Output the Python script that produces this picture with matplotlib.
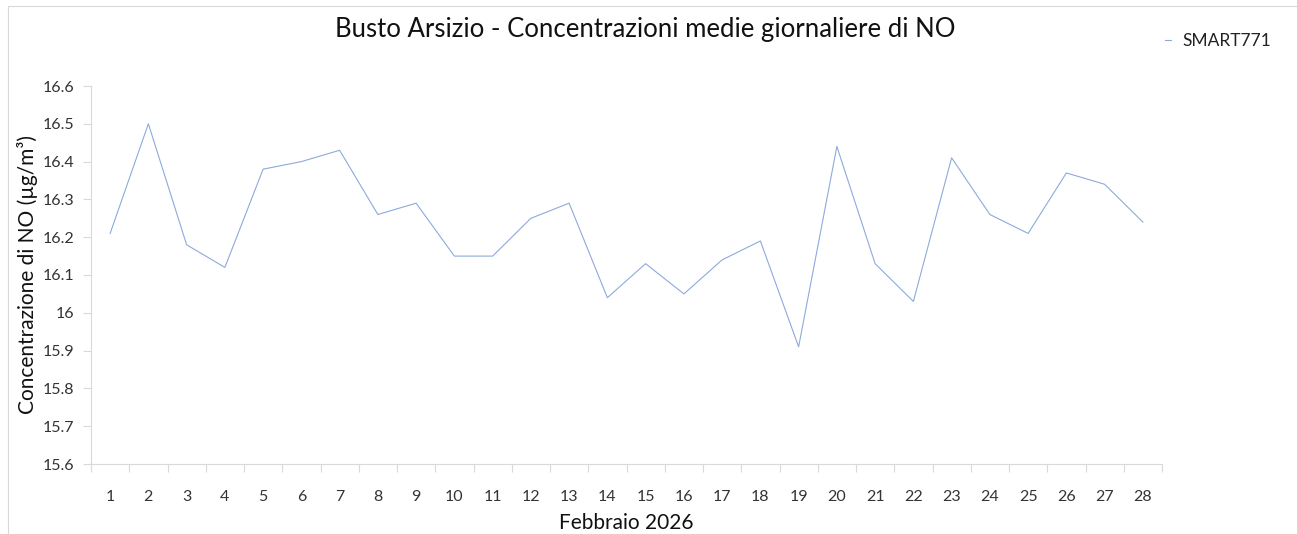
import matplotlib
matplotlib.use("Agg")
import matplotlib.pyplot as plt
from matplotlib.patches import Rectangle
import numpy as np

days = list(range(1, 29))
day_labels = [str(d) for d in days]
smart771 = [16.21, 16.50, 16.18, 16.12, 16.38, 16.40, 16.43, 16.26, 16.29, 16.15,
            16.15, 16.25, 16.29, 16.04, 16.13, 16.05, 16.14, 16.19, 15.91, 16.44,
            16.13, 16.03, 16.41, 16.26, 16.21, 16.37, 16.34, 16.24]
yticks = [15.6, 15.7, 15.8, 15.9, 16.0, 16.1, 16.2, 16.3, 16.4, 16.5, 16.6]
ytick_labels = ["15.6", "15.7", "15.8", "15.9", "16", "16.1", "16.2", "16.3", "16.4", "16.5", "16.6"]

plt.rcParams['font.family'] = ['Lato', 'DejaVu Sans']

W, H = 1297, 534
fig = plt.figure(figsize=(W/100, H/100), dpi=100)

# chart-area border (light gray, left and top edges visible)
fig.patches.append(Rectangle((8/W, -0.1), 1.2, 1.1 - 6/H, transform=fig.transFigure,
                             fill=False, edgecolor='#d9d9d9', lw=0.8, zorder=0))

ax = fig.add_axes([91/W, 1-464/H, (1162-91)/W, (464-86)/H])

line, = ax.plot(days, smart771, color='#8eaadb', lw=0.8, label='SMART771')

ax.set_xlim(0.5, 28.5)
ax.set_ylim(15.6, 16.6)
ax.set_yticks(yticks)
ax.set_yticklabels(ytick_labels, fontsize=11.5, color='#333333')
ax.set_xticks(days)
ax.set_xticklabels(day_labels, fontsize=11.5, color='#333333')
ax.tick_params(axis='x', length=0, pad=19)
ax.set_xticks(np.arange(0.5, 29.0, 1.0), minor=True)
ax.tick_params(axis='x', which='minor', length=6, color='#d9d9d9', width=0.8)
ax.tick_params(axis='y', length=6, color='#d9d9d9', width=0.8, pad=6)

for s in ['top', 'right']:
    ax.spines[s].set_visible(False)
for s in ['left', 'bottom']:
    ax.spines[s].set_color('#d9d9d9')
    ax.spines[s].set_linewidth(0.8)

ax.set_ylabel('Concentrazione di NO (µg/m³)', fontsize=15, color='#111111', labelpad=3)
ax.set_xlabel('Febbraio 2026', fontsize=15, color='#111111', labelpad=6)
fig.text(645/W, 1-30/H, 'Busto Arsizio - Concentrazioni medie giornaliere di NO',
         fontsize=18.5, ha='center', va='center', color='#111111')

leg = fig.legend(handles=[line], loc='center left', bbox_to_anchor=(1165/W, 1-41/H),
                 frameon=False, fontsize=12.5, handlelength=0.35, handletextpad=0.63,
                 borderpad=0, borderaxespad=0)
for t in leg.get_texts():
    t.set_color('#222222')

fig.savefig('out.png', dpi=100)
